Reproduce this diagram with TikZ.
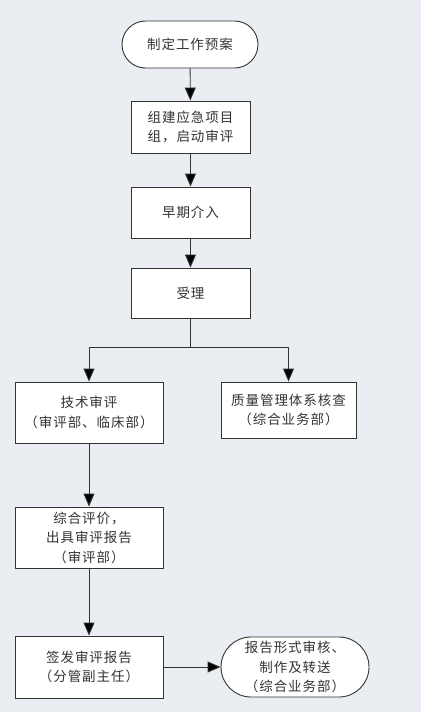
\documentclass[tikz,border=0pt]{standalone}
\usepackage{fontspec}
\newfontfamily\cjk[LetterSpace=7]{Noto Sans CJK SC}
\usetikzlibrary{arrows.meta,shapes.misc}
\definecolor{bgc}{HTML}{EAEEF3}
\definecolor{linec}{HTML}{333333}
\definecolor{txtc}{HTML}{333333}
\tikzset{
  x=1pt, y=-1pt,
  base/.style={draw=linec, line width=0.9pt, fill=white, text=txtc, align=center,
    font=\cjk\fontsize{13.5}{19.5}\selectfont, inner sep=0pt},
  box/.style={base, rectangle},
  term/.style={base, rounded rectangle},
  arr/.style={draw=linec, line width=0.9pt, -{Triangle[width=11pt,length=13pt,fill=black]}},
  ln/.style={draw=linec, line width=0.9pt},
}
\begin{document}
\begin{tikzpicture}
\fill[bgc] (0,0) rectangle (421,712);
\useasboundingbox (0,0) rectangle (421,712);
\node[term, minimum width=136pt, minimum height=47pt] (start) at (190,44.5) {制定工作预案};
\node[box, minimum width=119pt, minimum height=52pt] (b1) at (190.5,127) {组建应急项目\\组，启动审评};
\node[box, minimum width=119pt, minimum height=51pt] (b2) at (190.5,212.5) {早期介入};
\node[box, minimum width=119pt, minimum height=50pt] (b3) at (190.5,293) {受理};
\node[box, minimum width=148pt, minimum height=61pt] (l1) at (89,412.5) {技术审评\\（审评部、临床部）};
\node[box, minimum width=135pt, minimum height=56pt] (r1) at (288.5,410) {质量管理体系核查\\（综合业务部）};
\node[box, minimum width=148pt, minimum height=61pt] (l2) at (89,537.5) {综合评价，\\出具审评报告\\（审评部）};
\node[box, minimum width=148pt, minimum height=62pt] (l3) at (89,667) {签发审评报告\\（分管副主任）};
\node[term, minimum width=148pt, minimum height=60pt] (end) at (295,667) {报告形式审核、\\制作及转送\\（综合业务部）};
\coordinate (split) at (190.5,347);
\draw[arr] (start) -- (b1);
\draw[arr] (b1) -- (b2);
\draw[arr] (b2) -- (b3);
\draw[ln] (b3.south) -- (split);
\draw[arr] (split) -| (l1.north);
\draw[arr] (split) -| (r1.north);
\draw[arr] (l1) -- (l2);
\draw[arr] (l2) -- (l3);
\draw[arr] (l3) -- (end);
\end{tikzpicture}
\end{document}
